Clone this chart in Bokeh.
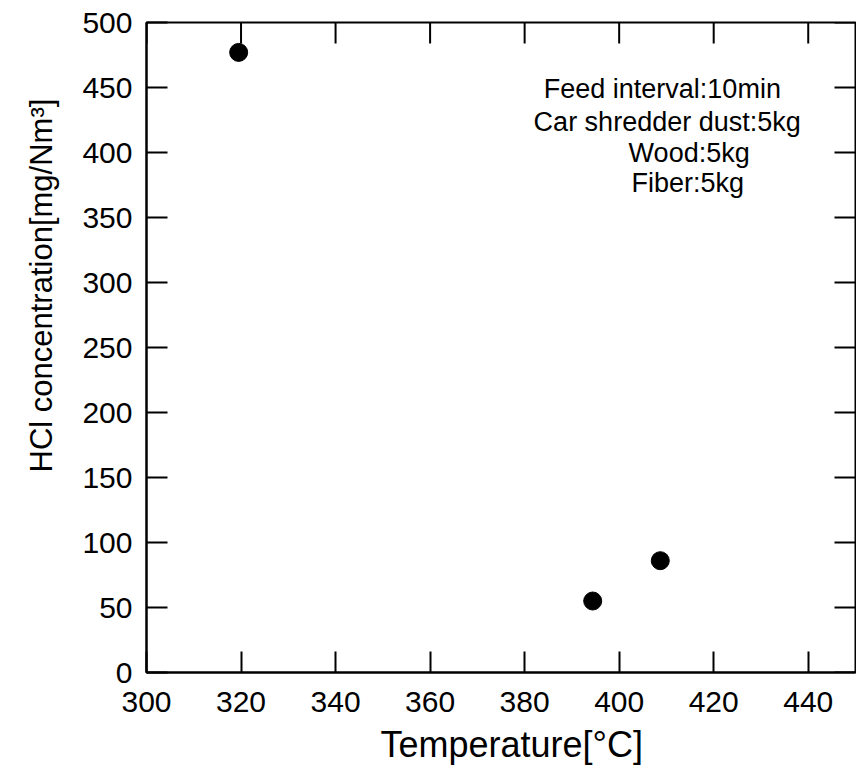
from bokeh.plotting import figure
from bokeh.models import LinearAxis, FixedTicker, Title, Range1d, Label
from bokeh.embed import file_html
from bokeh.resources import INLINE

# Data
temperature = [319.5, 394.4, 408.7]
hcl = [477, 55, 86]

x_ticks = [300, 320, 340, 360, 380, 400, 420, 440]
y_ticks = [0, 50, 100, 150, 200, 250, 300, 350, 400, 450, 500]
x_label = "Temperature[°C]"
y_label = "HCl concentration[mg/Nm³]"
notes = ["Feed interval:10min", "Car shredder dust:5kg", "Wood:5kg", "Fiber:5kg"]

FONT = "Liberation Sans"
X0, X1, Y0, Y1 = 300, 450, 0, 500
W, H = 856, 779
BL, BR, BT, BB = 146, 1, 22, 107
TICK = 21  # px

p = figure(width=W, height=H, output_backend="svg", toolbar_location=None,
           x_range=Range1d(X0, X1), y_range=Range1d(Y0, Y1),
           min_border_left=BL, min_border_right=BR, min_border_top=BT, min_border_bottom=BB,
           x_axis_location=None, y_axis_location=None)
p.grid.visible = False
p.outline_line_color = "black"
p.outline_line_width = 2
p.background_fill_color = "white"
p.border_fill_color = "white"

def style_axis(ax, standoff):
    ax.axis_line_color = "black"
    ax.axis_line_width = 2
    ax.major_tick_in = TICK
    ax.major_tick_out = 0
    ax.major_tick_line_width = 2
    ax.major_tick_line_color = "black"
    ax.minor_tick_line_color = None
    ax.major_label_text_font = FONT
    ax.major_label_text_color = "black"
    ax.major_label_text_font_size = "30px"
    ax.major_label_standoff = standoff

bottom = LinearAxis(ticker=FixedTicker(ticks=x_ticks))
style_axis(bottom, 19)
p.add_layout(bottom, "below")
left = LinearAxis(ticker=FixedTicker(ticks=y_ticks))
style_axis(left, 14)
p.add_layout(left, "left")

# mirrored inward ticks on top and right edges
fw = W - BL - BR
fh = H - BT - BB
dy = TICK * (Y1 - Y0) / fh
dx = TICK * (X1 - X0) / fw
p.segment(x0=x_ticks, y0=[Y1] * len(x_ticks), x1=x_ticks, y1=[Y1 - dy] * len(x_ticks),
          line_color="black", line_width=2)
p.segment(x0=[X1] * len(y_ticks), y0=y_ticks, x1=[X1 - dx] * len(y_ticks), y1=y_ticks,
          line_color="black", line_width=2)

p.scatter(temperature, hcl, size=18, marker="circle", fill_color="black", line_color="black")

# Axis titles
xt = Title(text=x_label, text_font=FONT, text_font_size="36px", text_font_style="normal",
           align="left", offset=234, standoff=15, text_color="black")
p.add_layout(xt, "below")
yt = Title(text=y_label, text_font=FONT, text_font_size="31px", text_font_style="normal",
           align="left", offset=200, standoff=42, text_color="black")
p.add_layout(yt, "left")

note_pos = [(384.05, 448.5), (381.9, 423.8), (402.0, 400.0), (402.6, 376.2)]
for t, (nx, ny) in zip(notes, note_pos):
    p.add_layout(Label(x=nx, y=ny, text=t, text_font=FONT, text_font_size="27px",
                       text_align="left", text_baseline="alphabetic", text_color="black"))

open("out.html", "w").write(file_html(p, INLINE))
